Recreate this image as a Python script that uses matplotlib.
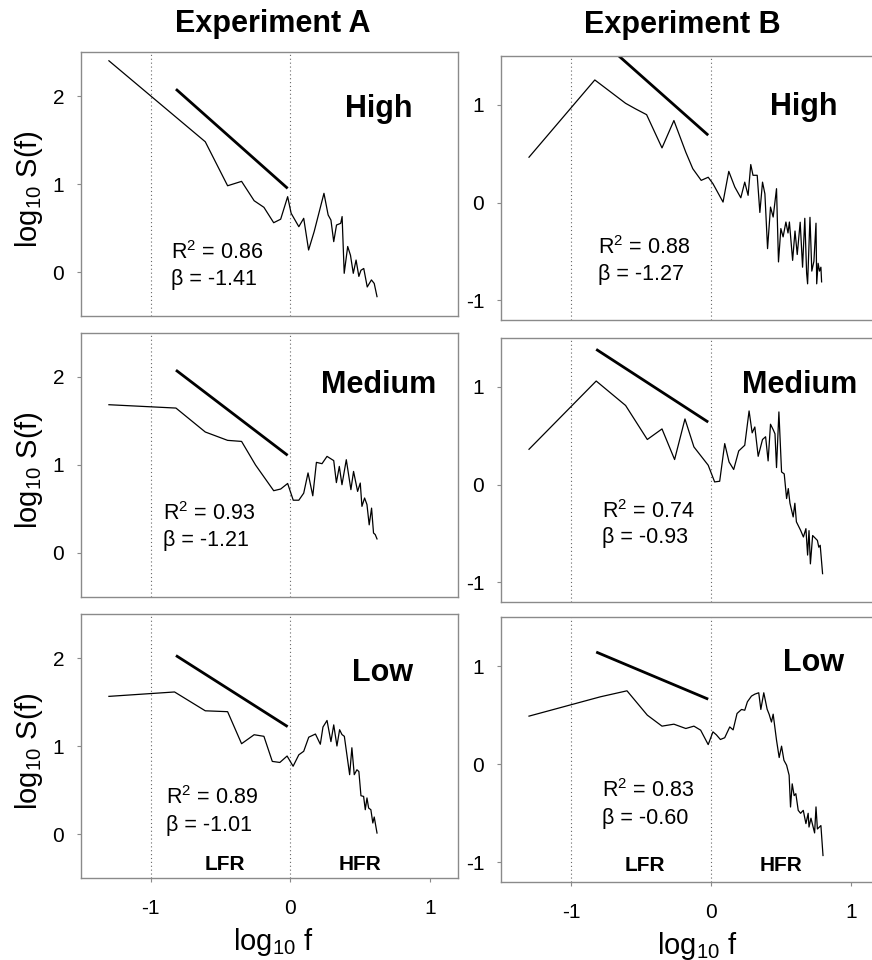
import numpy as np
import matplotlib
matplotlib.use("Agg")
import matplotlib.pyplot as plt

plt.rcParams['font.family'] = ['Liberation Sans', 'DejaVu Sans']
plt.rcParams['mathtext.fontset'] = 'custom'
plt.rcParams['mathtext.rm'] = 'Liberation Sans'
plt.rcParams['mathtext.it'] = 'Liberation Sans:italic'
plt.rcParams['mathtext.bf'] = 'Liberation Sans:bold'
plt.rcParams['axes.unicode_minus'] = False

# spectra (log10 f, log10 S(f))
A_high_x = [-1.30, -0.61, -0.45, -0.35, -0.26, -0.19, -0.12, -0.07, -0.02, 0.005, 0.06, 0.095, 0.13, 0.17,
            0.24, 0.27, 0.29, 0.31, 0.33, 0.36, 0.37, 0.385, 0.41, 0.43, 0.45, 0.47, 0.49, 0.505, 0.525,
            0.55, 0.58, 0.60, 0.62]
A_high_y = [2.40, 1.48, 0.98, 1.03, 0.81, 0.735, 0.56, 0.60, 0.856, 0.667, 0.515, 0.61, 0.25, 0.46,
            0.894, 0.648, 0.59, 0.345, 0.534, 0.553, 0.63, -0.015, 0.29, 0.19, -0.015, 0.136, -0.05, 0.02, 0.04,
            -0.17, -0.09, -0.13, -0.28]

A_med_x = [-1.30, -0.82, -0.61, -0.45, -0.35, -0.25, -0.12, -0.07, -0.02, 0.02, 0.06, 0.095, 0.126, 0.16,
           0.186, 0.226, 0.262, 0.31, 0.329, 0.35, 0.369, 0.40, 0.433, 0.452, 0.481, 0.50, 0.512, 0.531,
           0.548, 0.564, 0.581, 0.595, 0.607, 0.62]
A_med_y = [1.685, 1.647, 1.375, 1.28, 1.268, 1.0, 0.708, 0.727, 0.79, 0.60, 0.60, 0.68, 0.91, 0.65,
           1.03, 1.015, 1.098, 1.05, 0.80, 0.984, 0.776, 1.06, 0.72, 0.927, 0.70, 0.795, 0.53, 0.625,
           0.55, 0.32, 0.51, 0.227, 0.21, 0.16]

A_low_x = [-1.30, -0.83, -0.61, -0.45, -0.35, -0.26, -0.19, -0.13, -0.076, -0.024, 0.019, 0.06, 0.095, 0.131,
           0.179, 0.214, 0.233, 0.262, 0.29, 0.31, 0.333, 0.352, 0.369, 0.386, 0.424, 0.44, 0.457, 0.476,
           0.49, 0.505, 0.524, 0.536, 0.548, 0.56, 0.576, 0.59, 0.60, 0.62]
A_low_y = [1.564, 1.614, 1.40, 1.39, 1.026, 1.128, 1.11, 0.825, 0.813, 0.886, 0.77, 0.90, 0.94, 1.10,
           1.136, 1.02, 1.216, 1.29, 1.05, 1.24, 1.0, 1.185, 1.13, 1.11, 0.674, 0.98, 0.674, 0.73,
           0.71, 0.435, 0.427, 0.276, 0.41, 0.295, 0.276, 0.125, 0.193, 0.011]

B_high_x = [-1.30, -0.83, -0.61, -0.54, -0.46, -0.35, -0.265, -0.18, -0.13, -0.07, -0.02, 0.014, 0.086,
            0.127, 0.17, 0.213, 0.241, 0.265, 0.284, 0.30, 0.33, 0.349, 0.368, 0.385, 0.404, 0.425, 0.444,
            0.468, 0.482, 0.499, 0.515, 0.535, 0.55, 0.56, 0.583, 0.60, 0.616, 0.637, 0.654, 0.67, 0.683,
            0.69, 0.707, 0.72, 0.735, 0.75, 0.755, 0.765, 0.775, 0.785, 0.79]
B_high_y = [0.465, 1.255, 1.016, 0.96, 0.90, 0.56, 0.84, 0.516, 0.347, 0.228, 0.26, 0.194, 0.006,
            0.32, 0.16, 0.05, 0.21, 0.075, 0.39, 0.28, 0.28, -0.10, 0.21, 0.09, -0.47, -0.045, -0.147,
            0.143, -0.606, -0.265, -0.35, -0.198, -0.31, -0.198, -0.59, -0.29, -0.53, -0.20, -0.66, -0.16, -0.72,
            -0.83, -0.15, -0.70, -0.60, -0.21, -0.83, -0.62, -0.70, -0.66, -0.81]

B_med_x = [-1.30, -0.82, -0.61, -0.455, -0.35, -0.26, -0.186, -0.122, -0.02, 0.026, 0.062, 0.098, 0.129,
           0.162, 0.198, 0.241, 0.272, 0.294, 0.313, 0.337, 0.368, 0.39, 0.408, 0.425, 0.445, 0.457, 0.468,
           0.485, 0.504, 0.523, 0.54, 0.552, 0.564, 0.587, 0.599, 0.61, 0.64, 0.66, 0.678, 0.69, 0.70,
           0.71, 0.726, 0.76, 0.77, 0.78, 0.797]
B_med_y = [0.362, 1.06, 0.81, 0.462, 0.57, 0.257, 0.672, 0.386, 0.199, 0.028, 0.035, 0.42, 0.232,
           0.155, 0.345, 0.403, 0.754, 0.53, 0.59, 0.29, 0.462, 0.49, 0.243, 0.618, 0.56, 0.52, 0.175,
           0.744, 0.13, 0.11, -0.142, -0.04, -0.19, -0.33, -0.19, -0.38, -0.467, -0.535, -0.45, -0.72, -0.47,
           -0.81, -0.52, -0.57, -0.64, -0.62, -0.91]

B_low_x = [-1.30, -0.79, -0.60, -0.455, -0.35, -0.265, -0.18, -0.122, -0.074, -0.02, 0.014, 0.038, 0.067,
           0.098, 0.134, 0.158, 0.186, 0.218, 0.241, 0.26, 0.289, 0.313, 0.341, 0.356, 0.377, 0.401, 0.415,
           0.432, 0.444, 0.468, 0.487, 0.504, 0.521, 0.54, 0.558, 0.568, 0.58, 0.594, 0.606, 0.623, 0.64,
           0.659, 0.678, 0.694, 0.70, 0.714, 0.74, 0.75, 0.76, 0.785, 0.80]
B_low_y = [0.49, 0.687, 0.748, 0.50, 0.388, 0.408, 0.364, 0.388, 0.347, 0.20, 0.33, 0.30, 0.252,
           0.27, 0.38, 0.35, 0.517, 0.558, 0.55, 0.636, 0.694, 0.714, 0.728, 0.558, 0.728, 0.56, 0.51,
           0.43, 0.51, 0.245, 0.068, 0.184, 0.04, -0.01, -0.112, -0.436, -0.20, -0.32, -0.30, -0.47, -0.50,
           -0.47, -0.605, -0.50, -0.64, -0.55, -0.70, -0.435, -0.66, -0.625, -0.93]

# fitted LFR lines: x range, end value at right, slope = beta
fit_x = [-0.82, -0.02]
A_fit_end = [0.95, 1.11, 1.22]
B_fit_end = [0.69, 0.64, 0.663]
A_beta = [-1.41, -1.21, -1.01]
B_beta = [-1.27, -0.93, -0.60]
A_r2 = [0.86, 0.93, 0.89]
B_r2 = [0.88, 0.74, 0.83]
levels = ["High", "Medium", "Low"]

A_series = [(A_high_x, A_high_y), (A_med_x, A_med_y), (A_low_x, A_low_y)]
B_series = [(B_high_x, B_high_y), (B_med_x, B_med_y), (B_low_x, B_low_y)]

# text positions (data coords)
A_stat_pos = [(-0.857, 0.148, -0.148), (-0.91, 0.37, 0.075), (-0.89, 0.344, 0.037)]
B_stat_pos = [(-0.81, -0.527, -0.786), (-0.78, -0.337, -0.597), (-0.78, -0.333, -0.605)]
A_lev_pos = [(0.636, 1.85), (0.63, 1.91), (0.66, 1.83)]
B_lev_pos = [(0.66, 0.98), (0.63, 1.02), (0.735, 1.03)]

W, H = 872, 960
fig = plt.figure(figsize=(W / 100, H / 100), dpi=100)

GRAY = "#8a8a8a"

def px_axes(left, top, right, bottom):
    return fig.add_axes([left / W, 1 - bottom / H, (right - left) / W, (bottom - top) / H])

A_boxes = [(81, 52, 458, 316), (81, 333, 458, 597), (81, 614, 458, 878)]
B_boxes = [(501, 56, 879, 320), (501, 338, 879, 602), (501, 617, 879, 882)]

for col in range(2):
    boxes = A_boxes if col == 0 else B_boxes
    series = A_series if col == 0 else B_series
    fit_end = A_fit_end if col == 0 else B_fit_end
    betas = A_beta if col == 0 else B_beta
    r2s = A_r2 if col == 0 else B_r2
    stat_pos = A_stat_pos if col == 0 else B_stat_pos
    lev_pos = A_lev_pos if col == 0 else B_lev_pos
    for i in range(3):
        ax = px_axes(*boxes[i])
        x, y = series[i]
        ax.axvline(-1, color="#666666", linestyle=(0, (1, 2.5)), linewidth=0.8)
        ax.axvline(0, color="#666666", linestyle=(0, (1, 2.5)), linewidth=0.8)
        ax.plot(x, y, color="black", linewidth=0.9)
        b = betas[i]
        y1 = fit_end[i]
        y0 = y1 - b * (fit_x[1] - fit_x[0])
        ax.plot(fit_x, [y0, y1], color="black", linewidth=2.0, solid_capstyle="butt")
        sx, ry, by = stat_pos[i]
        ax.text(sx, ry, r"R$^{\mathregular{2}}$ = %.2f" % r2s[i], fontsize=15.5)
        ax.text(sx, by, "β = %.2f" % b, fontsize=15.5)
        lx, ly = lev_pos[i]
        ax.text(lx, ly, levels[i], fontsize=22, fontweight="bold", ha="center", va="center")
        ax.set_xlim(-1.5, 1.2)
        if col == 0:
            ax.set_ylim(-0.5, 2.5)
            ax.set_yticks([0, 1, 2])
            ax.set_ylabel(r"log$_{\mathregular{10}}$ S(f)", fontsize=21)
            ax.yaxis.set_label_coords(-0.095, 0.48)
        else:
            ax.set_ylim(-1.2, 1.5)
            ax.set_yticks([-1, 0, 1])
        for s in ax.spines.values():
            s.set_color(GRAY)
            s.set_linewidth(1.0)
        ax.tick_params(axis="y", direction="out", length=3, width=0.8, color=GRAY,
                       labelsize=15, pad=9)
        if i == 2:
            ax.set_xticks([-1, 0, 1])
            ax.tick_params(axis="x", direction="out", length=3, width=0.8, color=GRAY,
                           labelsize=15, pad=12)
            ax.set_xlabel(r"log$_{\mathregular{10}}$ f", fontsize=21)
            ax.xaxis.set_label_coords(0.51 if col == 0 else 0.52, -0.18)
            ybase = -0.35 if col == 0 else -1.03
            ax.text(-0.47, ybase, "LFR", fontsize=15, fontweight="bold", ha="center", va="center")
            ax.text(0.5, ybase, "HFR", fontsize=15, fontweight="bold", ha="center", va="center")
        else:
            ax.set_xticks([])

fig.text(273 / W, 1 - 24 / H, "Experiment A", fontsize=22, fontweight="bold", ha="center", va="center")
fig.text(682 / W, 1 - 25 / H, "Experiment B", fontsize=22, fontweight="bold", ha="center", va="center")

fig.savefig("out.png", dpi=100)
